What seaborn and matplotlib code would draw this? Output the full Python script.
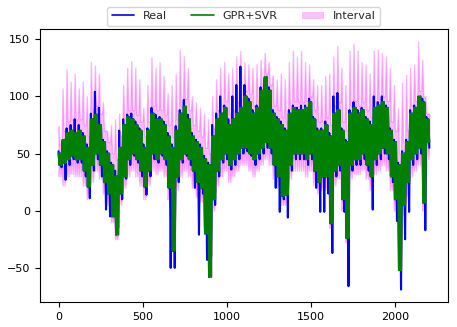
import numpy as np
import pandas as pd
import matplotlib
matplotlib.use("Agg")
import matplotlib.pyplot as plt
import seaborn as sns
from matplotlib.patches import Patch
from matplotlib.lines import Line2D

# Per-day readings (92 days of hourly data): daily high / low of each series
gs_lo = [40, 42, 45, 48, 45, 45, 35, 21, 40, 50, 40, 25, 15, -5, -21, 15, 30, 45, 50, 45,
         35, 21, 35, 50, 45, 50, 45, 20, -35, 30, 45, 50, 45, 35, 25, 20, -20, -58, 10, 35,
         45, 50, 40, 45, 50, 55, 55, 50, 45, 50, 55, 60, 55, 40, 30, 13, 14, 40, 50, 50,
         50, 45, 50, 35, 25, 30, 30, -11, 35, 40, 10, -24, 40, 45, 45, 50, 40, 30, 45, 50,
         55, 50, 30, 10, -52, 5, 25, 45, 50, 55, 7, 60]
gs_hi = [50, 62, 68, 70, 68, 70, 65, 55, 80, 84, 75, 60, 50, 40, 30, 55, 75, 82, 80, 75,
         70, 55, 70, 85, 80, 80, 75, 65, 55, 70, 85, 91, 80, 65, 60, 55, 45, 40, 65, 80,
         85, 90, 75, 80, 85, 90, 100, 95, 85, 90, 105, 117, 105, 85, 80, 75, 70, 85, 90, 88,
         88, 90, 95, 80, 70, 70, 75, 65, 85, 88, 70, 60, 85, 90, 85, 88, 80, 75, 90, 92,
         95, 90, 70, 60, 40, 50, 60, 85, 90, 100, 95, 80]
re_lo = [38, 27, 40, 45, 42, 42, 30, 11, 35, 45, 30, 1, -5, -5, -15, 10, 28, 40, 48, 42,
         30, 14, 30, 45, 42, 48, 40, -50, -50, 25, 42, 48, 40, 20, -21, 15, -43, -40, 5, 30,
         42, 45, 36, 40, 45, 50, 52, 48, 40, 45, 50, 55, 50, 20, -1, 10, -6, 35, 45, 45,
         45, 40, 45, 20, -1, -1, 15, -37, 30, 35, -1, -66, 35, 40, 40, 45, 35, 1, 40, 45,
         50, 45, 25, -9, -69, -25, -1, 40, 45, 50, -17, 55]
re_hi = [52, 60, 72, 75, 80, 75, 68, 58, 85, 104, 90, 62, 52, 42, 35, 70, 80, 84, 85, 78,
         72, 58, 72, 90, 84, 82, 78, 68, 58, 74, 88, 97, 84, 68, 62, 58, 48, 42, 75, 85,
         100, 92, 80, 100, 110, 126, 110, 98, 88, 92, 108, 115, 108, 88, 82, 78, 72, 88, 92, 90,
         92, 92, 98, 82, 72, 72, 78, 68, 100, 103, 72, 62, 88, 95, 88, 90, 82, 78, 100, 95,
         100, 92, 72, 62, 42, 52, 62, 88, 92, 95, 98, 82]
up_pk = [74, 107, 124, 113, 120, 107, 113, 100, 130, 127, 120, 95, 70, 75, 80, 85, 110, 125, 131, 125,
         115, 90, 110, 134, 125, 130, 118, 103, 110, 120, 141, 135, 125, 100, 95, 90, 85, 80, 100, 115,
         125, 130, 120, 125, 135, 140, 130, 128, 125, 128, 132, 138, 130, 118, 115, 120, 115, 130, 140, 135,
         140, 130, 128, 115, 110, 110, 118, 120, 135, 144, 125, 110, 140, 146, 140, 130, 128, 120, 140, 141,
         138, 135, 125, 110, 90, 112, 119, 125, 128, 148, 132, 85]
up_base = [58, 70, 78, 80, 80, 80, 75, 65, 88, 92, 85, 70, 60, 50, 45, 65, 82, 88, 88, 84,
           78, 65, 78, 92, 88, 88, 84, 75, 65, 80, 92, 98, 88, 75, 70, 65, 55, 50, 72, 88,
           92, 96, 85, 88, 95, 98, 105, 102, 92, 96, 110, 120, 110, 92, 88, 82, 78, 92, 96, 95,
           95, 96, 100, 88, 78, 78, 82, 75, 92, 95, 78, 70, 92, 96, 92, 95, 88, 82, 96, 98,
           100, 96, 78, 70, 50, 60, 70, 92, 96, 105, 100, 85]
low = [30, 22, 30, 32, 30, 30, 22, 10, 25, 35, 28, 15, 5, -10, -25, 5, 20, 30, 35, 30,
       22, 10, 22, 35, 32, 35, 30, 10, -20, 18, 30, 35, 30, 20, 12, 8, -17, -15, 0, 22,
       30, 35, 25, 30, 35, 40, 40, 35, 30, 35, 40, 45, 40, 28, 20, 5, 5, 28, 35, 35,
       35, 30, 35, 22, 15, 18, 18, -15, 22, 28, 0, -28, 28, 32, 32, 35, 28, 18, 32, 35,
       40, 35, 18, 0, -20, -5, 12, 30, 35, 40, 0, 45]

n_days = len(gs_lo)
hours = np.arange(n_days * 4) * 6  # 4 samples per day

# arrange the daily readings into within-day samples
# (where the blue line is hidden, the real value lies inside the green band)
real = np.column_stack([re_hi, gs_lo, gs_hi, re_lo]).ravel()
pred = np.column_stack([gs_hi, gs_lo, gs_hi, gs_lo]).ravel()
upper = np.column_stack([up_pk, up_base, up_base, up_base]).ravel()
lower = np.column_stack([low, gs_lo, low, gs_lo]).ravel()

df = pd.DataFrame({"t": hours, "real": real, "pred": pred})

sns.set_theme(style="ticks")
plt.rcParams["font.family"] = ["DejaVu Sans"]
plt.rcParams["axes.edgecolor"] = "black"
plt.rcParams["xtick.color"] = "black"
plt.rcParams["ytick.color"] = "black"

fig, ax = plt.subplots(figsize=(4.57, 3.27), dpi=100)
fig.subplots_adjust(left=0.0875, right=0.980, top=0.911, bottom=0.0765)

ax.fill_between(hours, lower, upper, facecolor="magenta", edgecolor="magenta",
                alpha=0.27, linewidth=1.0, zorder=1)
sns.lineplot(data=df, x="t", y="real", color="blue", linewidth=1.5, estimator=None, ax=ax, zorder=2)
sns.lineplot(data=df, x="t", y="pred", color="green", linewidth=1.5, estimator=None, ax=ax, zorder=3)

ax.set_xlabel("")
ax.set_ylabel("")
ax.set_xticks([0, 500, 1000, 1500, 2000])
ax.set_yticks([-50, 0, 50, 100, 150])
ax.tick_params(labelsize=8, direction="out", length=3.5, width=0.8)
for s in ax.spines.values():
    s.set_linewidth(0.8)

handles = [Line2D([0], [0], color="blue", lw=1.2),
           Line2D([0], [0], color="green", lw=1.2),
           Patch(facecolor="magenta", alpha=0.25, edgecolor="none")]
ax.legend(handles, ["Real", "GPR+SVR", "Interval"], loc="lower center",
          bbox_to_anchor=(0.5, 1.0), ncol=3, fontsize=8, frameon=True,
          borderaxespad=0.3, columnspacing=2.2)

fig.savefig("out.png", dpi=100)
